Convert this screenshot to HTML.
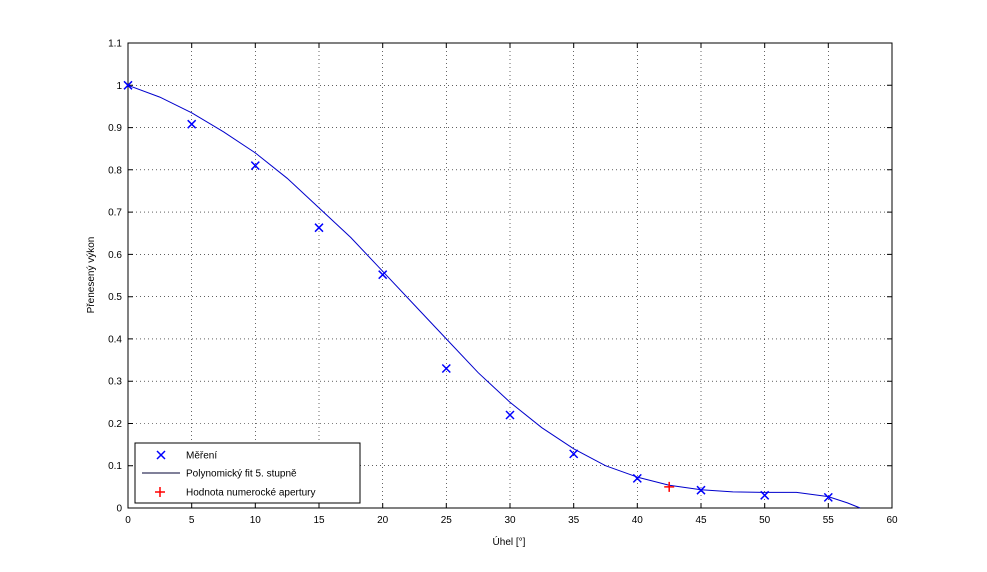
<!DOCTYPE html>
<html><head><meta charset="utf-8"><style>body{margin:0;background:#fff}svg{display:block}text{font-family:"Liberation Sans",sans-serif;font-size:10px;fill:#000}</style></head><body>
<svg width="987" height="572" xmlns="http://www.w3.org/2000/svg">
<rect width="987" height="572" fill="#fff"/>
<g stroke="#000" stroke-width="0.6" stroke-dasharray="1,3">
<line x1="191.7" y1="43" x2="191.7" y2="508"/><line x1="255.3" y1="43" x2="255.3" y2="508"/><line x1="319" y1="43" x2="319" y2="508"/><line x1="382.7" y1="43" x2="382.7" y2="508"/><line x1="446.3" y1="43" x2="446.3" y2="508"/><line x1="510" y1="43" x2="510" y2="508"/><line x1="573.7" y1="43" x2="573.7" y2="508"/><line x1="637.3" y1="43" x2="637.3" y2="508"/><line x1="701" y1="43" x2="701" y2="508"/><line x1="764.7" y1="43" x2="764.7" y2="508"/><line x1="828.3" y1="43" x2="828.3" y2="508"/>
<line x1="128" y1="465.7" x2="892" y2="465.7"/><line x1="128" y1="423.5" x2="892" y2="423.5"/><line x1="128" y1="381.2" x2="892" y2="381.2"/><line x1="128" y1="338.9" x2="892" y2="338.9"/><line x1="128" y1="296.7" x2="892" y2="296.7"/><line x1="128" y1="254.4" x2="892" y2="254.4"/><line x1="128" y1="212.1" x2="892" y2="212.1"/><line x1="128" y1="169.8" x2="892" y2="169.8"/><line x1="128" y1="127.6" x2="892" y2="127.6"/><line x1="128" y1="85.3" x2="892" y2="85.3"/>
</g>
<rect x="128" y="43" width="764" height="465" fill="none" stroke="#000" stroke-width="1"/>
<g stroke="#000" stroke-width="1">
<path d="M191.7 508v-5M255.3 508v-5M319 508v-5M382.7 508v-5M446.3 508v-5M510 508v-5M573.7 508v-5M637.3 508v-5M701 508v-5M764.7 508v-5M828.3 508v-5M191.7 43v5M255.3 43v5M319 43v5M382.7 43v5M446.3 43v5M510 43v5M573.7 43v5M637.3 43v5M701 43v5M764.7 43v5M828.3 43v5"/>
<path d="M128 465.7h5M128 423.5h5M128 381.2h5M128 338.9h5M128 296.7h5M128 254.4h5M128 212.1h5M128 169.8h5M128 127.6h5M128 85.3h5M892 465.7h-5M892 423.5h-5M892 381.2h-5M892 338.9h-5M892 296.7h-5M892 254.4h-5M892 212.1h-5M892 169.8h-5M892 127.6h-5M892 85.3h-5"/>
</g>
<g text-anchor="middle">
<text x="128" y="523">0</text><text x="191.7" y="523">5</text><text x="255.3" y="523">10</text><text x="319" y="523">15</text><text x="382.7" y="523">20</text><text x="446.3" y="523">25</text><text x="510" y="523">30</text><text x="573.7" y="523">35</text><text x="637.3" y="523">40</text><text x="701" y="523">45</text><text x="764.7" y="523">50</text><text x="828.3" y="523">55</text><text x="892" y="523">60</text>
<text x="509" y="545">Úhel [°]</text>
<text transform="translate(94,275) rotate(-90)">Přenesený výkon</text>
</g>
<g text-anchor="end">
<text x="122" y="511.5">0</text><text x="122" y="469.2">0.1</text><text x="122" y="427">0.2</text><text x="122" y="384.7">0.3</text><text x="122" y="342.4">0.4</text><text x="122" y="300.2">0.5</text><text x="122" y="257.9">0.6</text><text x="122" y="215.6">0.7</text><text x="122" y="173.3">0.8</text><text x="122" y="131.1">0.9</text><text x="122" y="88.8">1</text><text x="122" y="46.5">1.1</text>
</g>
<polyline fill="none" stroke="#0000cc" stroke-width="1" points="128,85.3 159.8,97.1 191.7,112.8 223.5,131.8 255.3,152.9 287.2,178.3 319,207.9 350.8,237.5 382.7,271.3 414.5,305.1 446.3,338.9 478.2,372.7 510,402.3 541.8,427.7 573.7,448.8 605.5,465.7 637.3,477.1 669.2,485.2 701,489.8 732.8,491.9 764.7,492.4 796.5,492.4 828.3,496.6 847.4,502.9 860.2,508"/>
<g stroke="#0000ff" stroke-width="1.5" fill="none">
<path d="M124 81.3l8 8m0-8l-8 8"/>
<path d="M187.7 120.2l8 8m0-8l-8 8"/>
<path d="M251.3 161.6l8 8m0-8l-8 8"/>
<path d="M315 223.7l8 8m0-8l-8 8"/>
<path d="M378.7 270.7l8 8m0-8l-8 8"/>
<path d="M442.3 364.5l8 8m0-8l-8 8"/>
<path d="M506 411l8 8m0-8l-8 8"/>
<path d="M569.7 449.9l8 8m0-8l-8 8"/>
<path d="M633.3 474.4l8 8m0-8l-8 8"/>
<path d="M697 486.2l8 8m0-8l-8 8"/>
<path d="M760.7 491.3l8 8m0-8l-8 8"/>
<path d="M824.3 493.4l8 8m0-8l-8 8"/>
</g>
<path d="M664.2 486.9h10M669.2 481.9v10" stroke="#ff0000" stroke-width="1.5"/>
<rect x="135" y="443" width="225" height="60" fill="#fff" stroke="#000" stroke-width="1"/>
<path d="M157 451l8 8m0-8l-8 8" stroke="#0000ff" stroke-width="1.5"/>
<line x1="142" y1="473" x2="180" y2="473" stroke="#000033" stroke-width="1"/>
<path d="M155 492h10M160 487v10" stroke="#ff0000" stroke-width="1.5"/>
<text x="186" y="458.5">Měření</text>
<text x="186" y="476.5">Polynomický fit 5. stupně</text>
<text x="186" y="495.5">Hodnota numerocké apertury</text>
</svg>
</body></html>
